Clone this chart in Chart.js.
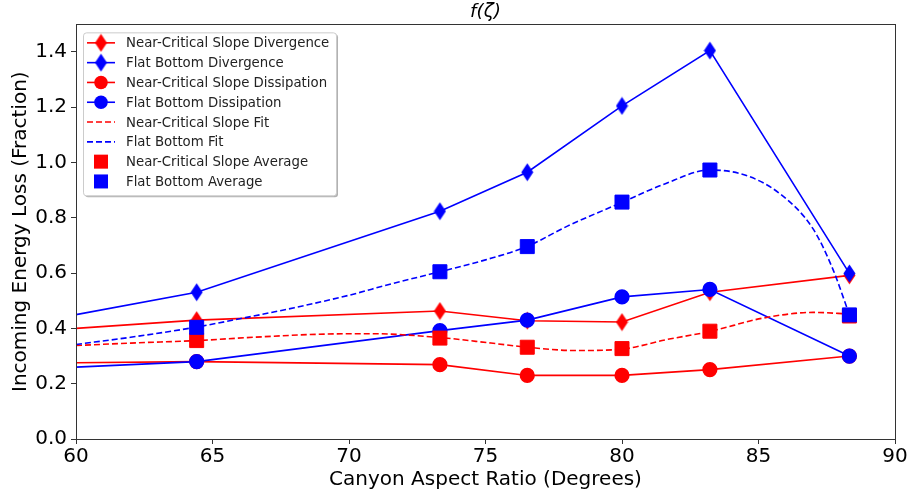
<!DOCTYPE html>
<html>
<head>
<meta charset="utf-8">
<script src="https://cdn.jsdelivr.net/npm/chart.js@4.4.0/dist/chart.umd.min.js"></script>
<style>
  html, body { margin: 0; padding: 0; background: #fff; }
  canvas { display: block; }
</style>
</head>
<body>
<canvas id="lossChart" width="911" height="497"></canvas>
<script>
// aspect ratios (degrees); the solid curves come in from the left edge at 60
const lineRatios = [60, 64.42, 73.33, 76.53, 80.0, 83.22, 88.33];
const avgRatios = [64.42, 73.33, 76.53, 80.0, 83.22, 88.33];

const ncDivergence = [0.40, 0.43, 0.463, 0.428, 0.423, 0.531, 0.592];
const fbDivergence = [0.45, 0.531, 0.824, 0.965, 1.205, 1.405, 0.599];
const ncDissipation = [0.276, 0.28, 0.269, 0.23, 0.23, 0.251, 0.30];
const fbDissipation = [0.26, 0.28, 0.392, 0.43, 0.514, 0.541, 0.30];

const ncAverage = [0.356, 0.365, 0.332, 0.327, 0.39, 0.445];
const fbAverage = [0.404, 0.605, 0.696, 0.857, 0.973, 0.449];

// fitted curves
const ncFitX = [60, 62, 64.42, 66.5, 68.9, 70.8, 73.33, 75.2, 76.53, 78.3, 80, 81.6, 83.22, 85.2, 87, 88.33];
const ncFitY = [0.338, 0.347, 0.356, 0.368, 0.379, 0.381, 0.367, 0.347, 0.332, 0.32, 0.325, 0.359, 0.389, 0.438, 0.458, 0.452];
const fbFitX = [60, 62, 64.42, 66, 68, 70, 71.5, 73.33, 75, 76.53, 78, 80, 81.5, 83.22, 84.5, 85.8, 87, 87.7, 88.33];
const fbFitY = [0.342, 0.368, 0.405, 0.435, 0.475, 0.52, 0.56, 0.605, 0.648, 0.697, 0.77, 0.856, 0.92, 0.973, 0.955, 0.886, 0.76, 0.62, 0.45];

const xTicks = [60, 65, 70, 75, 80, 85, 90];
const yTicks = [0.0, 0.2, 0.4, 0.6, 0.8, 1.0, 1.2, 1.4];

const RED = '#ff0000';
const BLUE = '#0000ff';
const AXIS = '#333333';
const FONT = "'DejaVu Sans', sans-serif";

function diamond(color) {
  const c = document.createElement('canvas');
  c.width = 13;
  c.height = 19;
  const g = c.getContext('2d');
  g.fillStyle = color;
  g.beginPath();
  g.moveTo(6.5, 0.5);
  g.lineTo(12.5, 9.5);
  g.lineTo(6.5, 18.5);
  g.lineTo(0.5, 9.5);
  g.closePath();
  g.fill();
  return c;
}

function pts(xs, ys) {
  return xs.map((x, i) => ({ x: x, y: ys[i] }));
}

// no marker on the edge point
function radii(r) {
  return lineRatios.map((x, i) => (i === 0 ? 0 : r));
}

function solid(label, ys, color, style, r, order) {
  return {
    label: label,
    data: pts(lineRatios, ys),
    borderColor: color,
    backgroundColor: color,
    borderWidth: 1.6,
    pointStyle: style,
    pointRadius: radii(r),
    pointHoverRadius: radii(r),
    order: order
  };
}

// matplotlib-like legend in the upper left of the axes
const boxLegend = {
  id: 'boxLegend',
  afterDatasetsDraw(chart) {
    const ctx = chart.ctx;
    const area = chart.chartArea;
    const x0 = area.left + 7, y0 = area.top + 8;
    const w = 253, h = 163, rowH = 19.8;
    ctx.save();
    ctx.fillStyle = 'rgba(0,0,0,0.3)';
    ctx.beginPath();
    ctx.roundRect(x0 + 2, y0 + 2, w, h, 3);
    ctx.fill();
    ctx.fillStyle = '#ffffff';
    ctx.strokeStyle = '#cccccc';
    ctx.lineWidth = 1;
    ctx.beginPath();
    ctx.roundRect(x0 + 0.5, y0 + 0.5, w, h, 3);
    ctx.fill();
    ctx.stroke();

    chart.data.datasets.forEach((ds, i) => {
      const cy = y0 + 10.5 + i * rowH;
      const mx = x0 + 18;
      if (ds.showLine !== false) {
        ctx.strokeStyle = ds.borderColor;
        ctx.lineWidth = ds.borderWidth;
        ctx.setLineDash(ds.borderDash || []);
        ctx.beginPath();
        ctx.moveTo(x0 + 4, cy);
        ctx.lineTo(x0 + 32, cy);
        ctx.stroke();
        ctx.setLineDash([]);
      }
      const style = ds.pointStyle;
      ctx.fillStyle = ds.borderColor;
      if (style instanceof HTMLCanvasElement) {
        ctx.drawImage(style, mx - style.width / 2, cy - style.height / 2);
      } else if (style === 'circle') {
        ctx.beginPath();
        ctx.arc(mx, cy, 6.8, 0, Math.PI * 2);
        ctx.fill();
      } else if (style === 'rect' && ds.showLine === false) {
        ctx.fillRect(mx - 7, cy - 7, 14, 14);
      }
      ctx.fillStyle = '#222222';
      ctx.font = '13.3px ' + FONT;
      ctx.textBaseline = 'middle';
      ctx.textAlign = 'left';
      ctx.fillText(ds.label, x0 + 43, cy + 1);
    });
    ctx.restore();
  }
};

// top and right spines
const frame = {
  id: 'frame',
  afterDraw(chart) {
    const a = chart.chartArea;
    const ctx = chart.ctx;
    ctx.save();
    ctx.strokeStyle = AXIS;
    ctx.lineWidth = 1;
    ctx.strokeRect(Math.round(a.left) + 0.5, Math.round(a.top) + 0.5,
      Math.round(a.right - a.left), Math.round(a.bottom - a.top));
    ctx.restore();
  }
};

new Chart(document.getElementById('lossChart').getContext('2d'), {
  type: 'line',
  data: {
    datasets: [
      solid('Near-Critical Slope Divergence', ncDivergence, RED, diamond(RED), 9, 8),
      solid('Flat Bottom Divergence', fbDivergence, BLUE, diamond(BLUE), 9, 7),
      solid('Near-Critical Slope Dissipation', ncDissipation, RED, 'circle', 6.8, 6),
      solid('Flat Bottom Dissipation', fbDissipation, BLUE, 'circle', 6.8, 5),
      {
        label: 'Near-Critical Slope Fit',
        data: pts(ncFitX, ncFitY),
        borderColor: RED,
        borderWidth: 1.6,
        borderDash: [6, 3],
        pointRadius: 0,
        cubicInterpolationMode: 'monotone',
        order: 4
      },
      {
        label: 'Flat Bottom Fit',
        data: pts(fbFitX, fbFitY),
        borderColor: BLUE,
        borderWidth: 1.6,
        borderDash: [6, 3],
        pointRadius: 0,
        cubicInterpolationMode: 'monotone',
        order: 3
      },
      {
        label: 'Near-Critical Slope Average',
        data: pts(avgRatios, ncAverage),
        showLine: false,
        borderColor: RED,
        backgroundColor: RED,
        pointStyle: 'rect',
        pointRadius: 9.9,
        order: 2
      },
      {
        label: 'Flat Bottom Average',
        data: pts(avgRatios, fbAverage),
        showLine: false,
        borderColor: BLUE,
        backgroundColor: BLUE,
        pointStyle: 'rect',
        pointRadius: 9.9,
        order: 1
      }
    ]
  },
  options: {
    responsive: false,
    animation: false,
    devicePixelRatio: 1,
    layout: { padding: { left: 0, right: 16, top: 0, bottom: 0 } },
    plugins: {
      legend: { display: false },
      tooltip: { enabled: false },
      title: {
        display: true,
        fullSize: false,
        text: 'f(ζ)',
        color: '#000000',
        font: { family: FONT, size: 18.5, style: 'italic', weight: 'normal', lineHeight: 1.1 },
        padding: { top: 2, bottom: 2 }
      }
    },
    scales: {
      x: {
        type: 'linear',
        min: 60,
        max: 90,
        afterBuildTicks: s => { s.ticks = xTicks.map(v => ({ value: v })); },
        afterFit: s => { s.height = 58; },
        ticks: {
          color: '#000000',
          font: { family: FONT, size: 20 },
          padding: 1,
          maxRotation: 0,
          callback: v => String(v)
        },
        grid: { drawOnChartArea: false, drawTicks: true, tickLength: 5, color: AXIS },
        border: { display: true, color: AXIS, width: 1 },
        title: {
          display: true,
          text: 'Canyon Aspect Ratio (Degrees)',
          color: '#000000',
          font: { family: FONT, size: 20 },
          padding: { top: 4, bottom: 5.5 }
        }
      },
      y: {
        min: 0,
        max: 1.5,
        afterBuildTicks: s => { s.ticks = yTicks.map(v => ({ value: v })); },
        afterFit: s => { s.width = 76; },
        ticks: {
          color: '#000000',
          font: { family: FONT, size: 20 },
          padding: 4,
          callback: v => Number(v).toFixed(1)
        },
        grid: { drawOnChartArea: false, drawTicks: true, tickLength: 5, color: AXIS },
        border: { display: true, color: AXIS, width: 1 },
        title: {
          display: true,
          text: 'Incoming Energy Loss (Fraction)',
          color: '#000000',
          font: { family: FONT, size: 20 },
          padding: { top: 8.5, bottom: 4 }
        }
      }
    }
  },
  plugins: [boxLegend, frame]
});
</script>
</body>
</html>
